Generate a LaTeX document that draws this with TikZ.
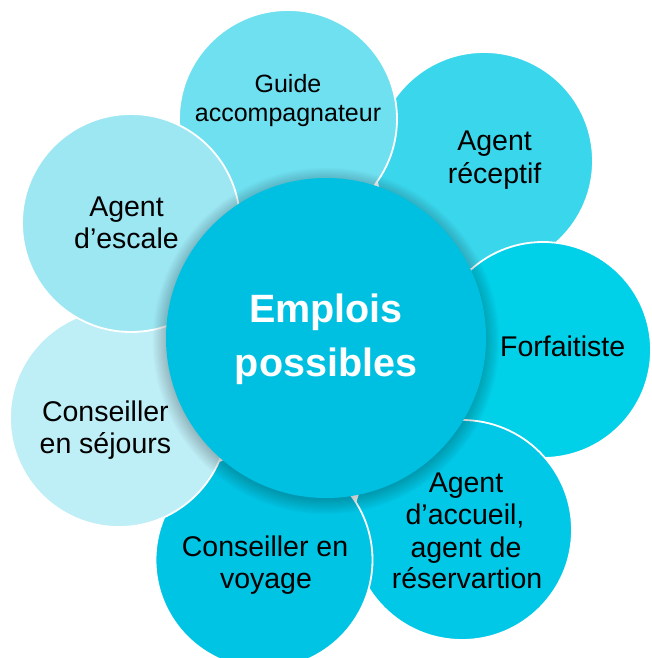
\documentclass[tikz,border=0pt]{standalone}
\usepackage{fontspec}
\setmainfont{Liberation Sans}
\definecolor{cGuide}{HTML}{6FE0F0}
\definecolor{cRecep}{HTML}{3AD7EC}
\definecolor{cForf}{HTML}{00D0E8}
\definecolor{cAcc}{HTML}{00C8E6}
\definecolor{cVoy}{HTML}{00C4E4}
\definecolor{cSej}{HTML}{BEEEF6}
\definecolor{cEsc}{HTML}{9DE7F3}
\definecolor{cMain}{HTML}{00C0E2}
\begin{document}
\begin{tikzpicture}[x=1pt,y=-1pt,
  bub/.style={circle, draw=white, line width=1.8pt, inner sep=0pt, minimum size=#1},
  lbl/.style={anchor=base, inner sep=0pt, text=black, font=\fontsize{28.5}{32}\selectfont},
  lblsmall/.style={anchor=base, inner sep=0pt, text=black, font=\fontsize{25}{29}\selectfont},
  lblmain/.style={anchor=base, inner sep=0pt, text=white, font=\fontsize{39.5}{54}\selectfont\bfseries}]
\useasboundingbox (0,0) rectangle (651,658);
\clip (0,0) rectangle (651,658);
% outer circles, back to front
\node[bub=218pt, fill=cRecep] (recep) at (484,161) {};
\node[bub=218pt, fill=cGuide] (guide) at (288,119) {};
\node[bub=216pt, fill=cForf] (forf) at (543,350) {};
\node[bub=220pt, fill=cAcc] (acc) at (462,530) {};
\node[bub=217pt, fill=cVoy] (voy) at (264,560) {};
\node[bub=218pt, fill=cSej] (sej) at (119,418) {};
\node[bub=218pt, fill=cEsc] (esc) at (131,223) {};
% soft shadow of the central circle
\foreach \i in {1,...,14}{
  \fill[black, opacity=0.014] (326,341) circle ({158pt+\i*1.1pt});
}
\node[circle, fill=cMain, inner sep=0pt, minimum size=320pt] (main) at (326,338) {};
% labels
\node[lblsmall] (guide1) at (288,92.3) {Guide};
\node[lblsmall] (guide2) at (288,121.7) {accompagnateur};
\node[lbl] (recep1) at (494.6,150) {Agent};
\node[lbl] (recep2) at (494.6,183.4) {réceptif};
\node[lbl] (esc1) at (126.5,216) {Agent};
\node[lbl] (esc2) at (126.5,248.8) {d’escale};
\node[lbl] (forf1) at (562.7,356) {Forfaitiste};
\node[lblmain] (main1) at (326,322.3) {Emplois};
\node[lblmain] (main2) at (326,376.4) {possibles};
\node[lbl] (sej1) at (105.4,421) {Conseiller};
\node[lbl] (sej2) at (105.4,453) {en séjours};
\node[lbl] (voy1) at (265,556) {Conseiller en};
\node[lbl] (voy2) at (266,588) {voyage};
\node[lbl] (acc1) at (466,492) {Agent};
\node[lbl] (acc2) at (465,524) {d’accueil,};
\node[lbl] (acc3) at (466,557) {agent de};
\node[lbl] (acc4) at (467,588) {réservartion};
\end{tikzpicture}
\end{document}
